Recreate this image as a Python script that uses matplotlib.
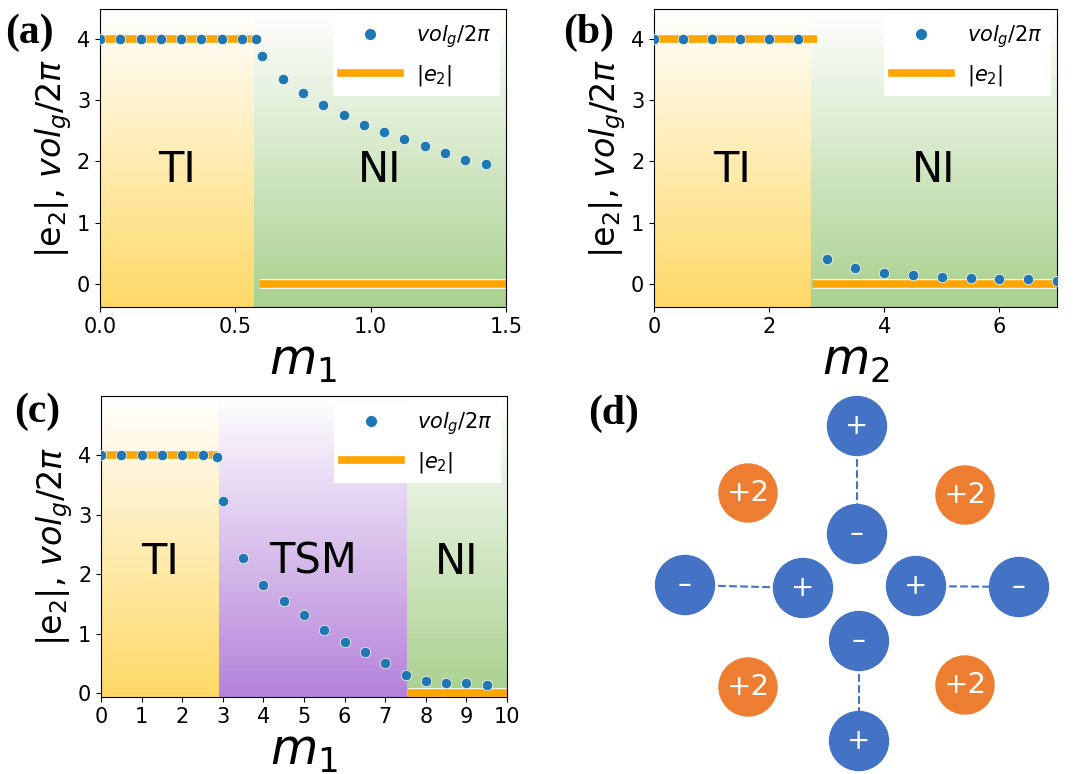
import matplotlib
matplotlib.use("Agg")
import matplotlib.pyplot as plt
import numpy as np
from matplotlib.colors import LinearSegmentedColormap
from matplotlib.lines import Line2D
from matplotlib.patches import Circle
import matplotlib.patheffects as pe

# ---- data ----
a_x = [0, 0.075, 0.15, 0.225, 0.3, 0.375, 0.45, 0.525, 0.575, 0.6, 0.675, 0.75,
       0.825, 0.9, 0.975, 1.05, 1.125, 1.2, 1.275, 1.35, 1.425]
a_vol = [4, 4, 4, 4, 4, 4, 4, 4, 4, 3.72, 3.34, 3.11, 2.92, 2.75, 2.60, 2.48,
         2.36, 2.25, 2.13, 2.03, 1.95]
a_e2 = [(0, 0.57, 4), (0.59, 1.5, 0)]
a_phases = [(0, 0.57, "TI"), (0.57, 1.5, "NI")]

b_x = [0, 0.5, 1, 1.5, 2, 2.5, 3, 3.5, 4, 4.5, 5, 5.5, 6, 6.5, 7]
b_vol = [4, 4, 4, 4, 4, 4, 0.40, 0.26, 0.18, 0.14, 0.11, 0.10, 0.08, 0.07, 0.05]
b_e2 = [(0, 2.84, 4), (2.77, 7, 0)]
b_phases = [(0, 2.72, "TI"), (2.72, 7, "NI")]

c_x = [0, 0.5, 1, 1.5, 2, 2.5, 2.85, 3, 3.5, 4, 4.5, 5, 5.5, 6, 6.5, 7, 7.5,
       8, 8.5, 9, 9.5]
c_vol = [4, 4, 4, 4, 4, 4, 3.98, 3.24, 2.27, 1.83, 1.56, 1.31, 1.07, 0.87,
         0.69, 0.51, 0.31, 0.21, 0.18, 0.17, 0.14]
c_e2 = [(0, 2.88, 4), (7.56, 10, 0)]
c_phases = [(0, 2.91, "TI"), (2.91, 7.53, "TSM"), (7.53, 10, "NI")]

# panel (d): charge nodes, offsets in px from the centre of the diagram
blue_nodes = [(0, -161, "+"), (0, -53, "–"), (-172, -2, "–"), (-54, 1, "+"),
              (59, -1, "+"), (162, 0, "–"), (2, 54, "–"), (2, 154, "+")]
orange_nodes = [(-109, -94, "+2"), (108, -92, "+2"), (-109, 100, "+2"), (108, 98, "+2")]
links = [(0, 1), (2, 3), (4, 5), (6, 7)]

phase_colors = {"TI": "#FFD966", "NI": "#A9D18E", "TSM": "#B482DA"}
VOL_LABEL = r"$vol_g/2\pi$"
E2_LABEL = r"$|e_2|$"

fig = plt.figure(figsize=(10.9, 7.74), dpi=100)


def draw_panel(rect, xs, vols, e2_segs, phases, xlim, ylim, xticks, xlabel, text_y):
    ax = fig.add_axes(rect)
    grad = np.linspace(0, 1, 256).reshape(-1, 1)
    for x0, x1, name in phases:
        cmap = LinearSegmentedColormap.from_list(name, ["#FFFFFF", phase_colors[name]])
        ax.imshow(grad, cmap=cmap, vmin=0, vmax=1, aspect="auto", origin="upper",
                  extent=[x0, x1, ylim[0], ylim[1]], zorder=0)
        ax.text((x0 + x1) / 2, text_y, name, ha="center", va="center", fontsize=30)
    ax.set_xlim(*xlim)
    ax.set_ylim(*ylim)
    for x0, x1, v in e2_segs:
        ax.plot([x0, x1], [v, v], color="orange", lw=5.5, solid_capstyle="butt", zorder=2,
                path_effects=[pe.Stroke(linewidth=7, foreground="white"), pe.Normal()])
    ax.plot(xs, vols, "o", color="#1f77b4", ms=7.5, mec="white", mew=0.5, zorder=3)
    ax.set_xticks(xticks)
    ax.set_yticks([0, 1, 2, 3, 4])
    ax.tick_params(labelsize=15)
    ax.set_xlabel(xlabel, fontsize=35, labelpad=0)
    ax.set_ylabel(r"$|\mathrm{e}_2|$, $vol_g/2\pi$", fontsize=24, labelpad=2)
    handles = [Line2D([], [], ls="none", marker="o", color="#1f77b4", ms=7),
               Line2D([], [], color="orange", lw=5.5)]
    leg = ax.legend(handles, [VOL_LABEL, E2_LABEL], loc="upper right", fontsize=15,
                    framealpha=1, fancybox=False, edgecolor="none", handlelength=2.8,
                    borderaxespad=0.3, labelspacing=0.6)
    leg.set_zorder(5)
    return ax


ax_a = draw_panel([0.0917, 0.6034, 0.3725, 0.385], a_x, a_vol, a_e2, a_phases,
                  (0, 1.5), (-0.38, 4.49), [0, 0.5, 1.0, 1.5], r"$m_1$", 1.86)
ax_a.set_xticklabels(["0.0", "0.5", "1.0", "1.5"])
draw_panel([0.6, 0.6034, 0.3697, 0.385], b_x, b_vol, b_e2, b_phases,
           (0, 7), (-0.38, 4.49), [0, 2, 4, 6], r"$m_2$", 1.86)
draw_panel([0.0927, 0.0995, 0.3725, 0.3889], c_x, c_vol, c_e2, c_phases,
           (0, 10), (-0.06, 5.0), list(range(11)), r"$m_1$", 2.21)

# panel (d): diagram in pixel coordinates
ax_d = fig.add_axes([600 / 1090, 0, 490 / 1090, 394 / 774])
ax_d.set_xlim(600, 1090)
ax_d.set_ylim(774, 380)
ax_d.axis("off")
cx, cy = 857, 587
for i, j in links:
    ax_d.plot([cx + blue_nodes[i][0], cx + blue_nodes[j][0]],
              [cy + blue_nodes[i][1], cy + blue_nodes[j][1]],
              ls="--", color="#4472C4", lw=1.5, zorder=1)
for dx, dy, s in blue_nodes:
    ax_d.add_patch(Circle((cx + dx, cy + dy), 29.5, color="#4472C4", zorder=2))
    ax_d.text(cx + dx, cy + dy, s, color="white", ha="center", va="center",
              fontsize=20, zorder=3)
for dx, dy, s in orange_nodes:
    ax_d.add_patch(Circle((cx + dx, cy + dy), 29, color="#ED7D31", zorder=2))
    ax_d.text(cx + dx, cy + dy, s, color="white", ha="center", va="center",
              fontsize=21, zorder=3)

# panel letters
for lbl, x, y in [("(a)", 5, 14), ("(b)", 563, 14), ("(c)", 14, 393), ("(d)", 588, 395)]:
    fig.text(x / 1090, 1 - y / 774, lbl, family="Liberation Serif", weight="bold",
             fontsize=30, ha="left", va="top")

fig.savefig("out.png", dpi=100)
